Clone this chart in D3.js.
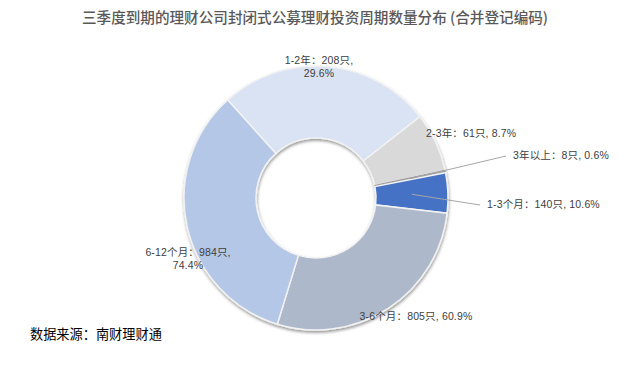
<!DOCTYPE html>
<html>
<head>
<meta charset="utf-8">
<script src="https://cdn.jsdelivr.net/npm/d3@7"></script>
<style>
  html, body { margin: 0; padding: 0; background: #fff; }
  svg { display: block; }
  text { font-family: "Noto Sans CJK SC", "Noto Sans", sans-serif; }
  .lbl text { font-family: "Liberation Sans", "Noto Sans CJK SC", sans-serif; letter-spacing: 0.15px; }
</style>
</head>
<body>
<div id="chart"></div>
<script>
// ---- data ----
const categories = ["1-2年", "2-3年", "3年以上", "1-3个月", "3-6个月", "6-12个月"];
const counts = [208, 61, 8, 140, 805, 984];
const percentLabels = ["29.6%", "8.7%", "0.6%", "10.6%", "60.9%", "74.4%"];
// slice share (%) as drawn in the picture
const drawnShare = [26.1, 7.2, 0.3, 4.9, 27.9, 33.6];
const colors = ["#DAE3F3", "#D9D9D9", "#A5A5A5", "#4472C4", "#ADB9CA", "#B4C7E7"];
const titleText = "三季度到期的理财公司封闭式公募理财投资周期数量分布 (合并登记编码)";
const sourceText = "数据来源：南财理财通";

// ---- layout ----
const W = 631, H = 366;
const cx = 316, cy = 198, R = 132, r0 = 60;
// label layout: [dx, dy, anchor, twoLines, leader]
const labelLayout = [
  [3, -133, "middle", true, false],
  [110, -61, "start", false, false],
  [197, -39, "start", false, true],
  [171, 10, "start", false, true],
  [100, 122, "middle", false, false],
  [-128, 59, "middle", true, false]
];

const svg = d3.select("#chart").append("svg").attr("width", W).attr("height", H);
svg.append("rect").attr("width", W).attr("height", H).attr("fill", "#fff");

const defs = svg.append("defs");
const f = defs.append("filter").attr("id", "sh").attr("x", "-20%").attr("y", "-20%").attr("width", "140%").attr("height", "140%");
f.append("feDropShadow").attr("dx", 0.5).attr("dy", 2).attr("stdDeviation", 1.8)
  .attr("flood-color", "#000").attr("flood-opacity", 0.4);

svg.append("text").attr("x", 315).attr("y", 23).attr("text-anchor", "middle")
  .attr("font-size", 14.6).attr("font-weight", 500).attr("fill", "#595959").text(titleText);

const pie = d3.pie().sort(null).value(d => d)
  .startAngle(-42 * Math.PI / 180).endAngle(318 * Math.PI / 180);
const arcs = pie(drawnShare);
const arc = d3.arc().innerRadius(r0).outerRadius(R);

const g = svg.append("g").attr("transform", `translate(${cx},${cy})`);
const ring = g.append("g").attr("filter", "url(#sh)");
ring.selectAll("path").data(arcs).join("path")
  .attr("d", arc)
  .attr("fill", (d, i) => colors[i])
  .attr("stroke", (d, i) => i === 2 ? "#8C8C8C" : "#F2F2F2")
  .attr("stroke-width", (d, i) => i === 2 ? 0.8 : 1.5);

// labels
const lg = g.append("g").attr("class", "lbl").attr("font-size", 10.5).attr("fill", "#404040");
arcs.forEach((a, i) => {
  const [dx, dy, anchor, two, leader] = labelLayout[i];
  const line1 = `${categories[i]}：${counts[i]}只,`;
  if (leader) {
    const c = arc.centroid(a);
    const endX = anchor === "start" ? dx - 7 : dx;
    lg.append("line").attr("x1", c[0]).attr("y1", c[1]).attr("x2", endX).attr("y2", dy - 3)
      .attr("stroke", "#A6A6A6").attr("stroke-width", 1);
  }
  if (two) {
    lg.append("text").attr("x", dx).attr("y", dy - 0.7).attr("text-anchor", anchor).text(line1);
    lg.append("text").attr("x", dx).attr("y", dy + 11.5).attr("text-anchor", anchor).text(percentLabels[i]);
  } else {
    lg.append("text").attr("x", dx).attr("y", dy).attr("text-anchor", anchor)
      .text(`${line1} ${percentLabels[i]}`);
  }
});

svg.append("text").attr("x", 30).attr("y", 339).attr("font-size", 13.2)
  .attr("fill", "#000").text(sourceText);
</script>
</body>
</html>
